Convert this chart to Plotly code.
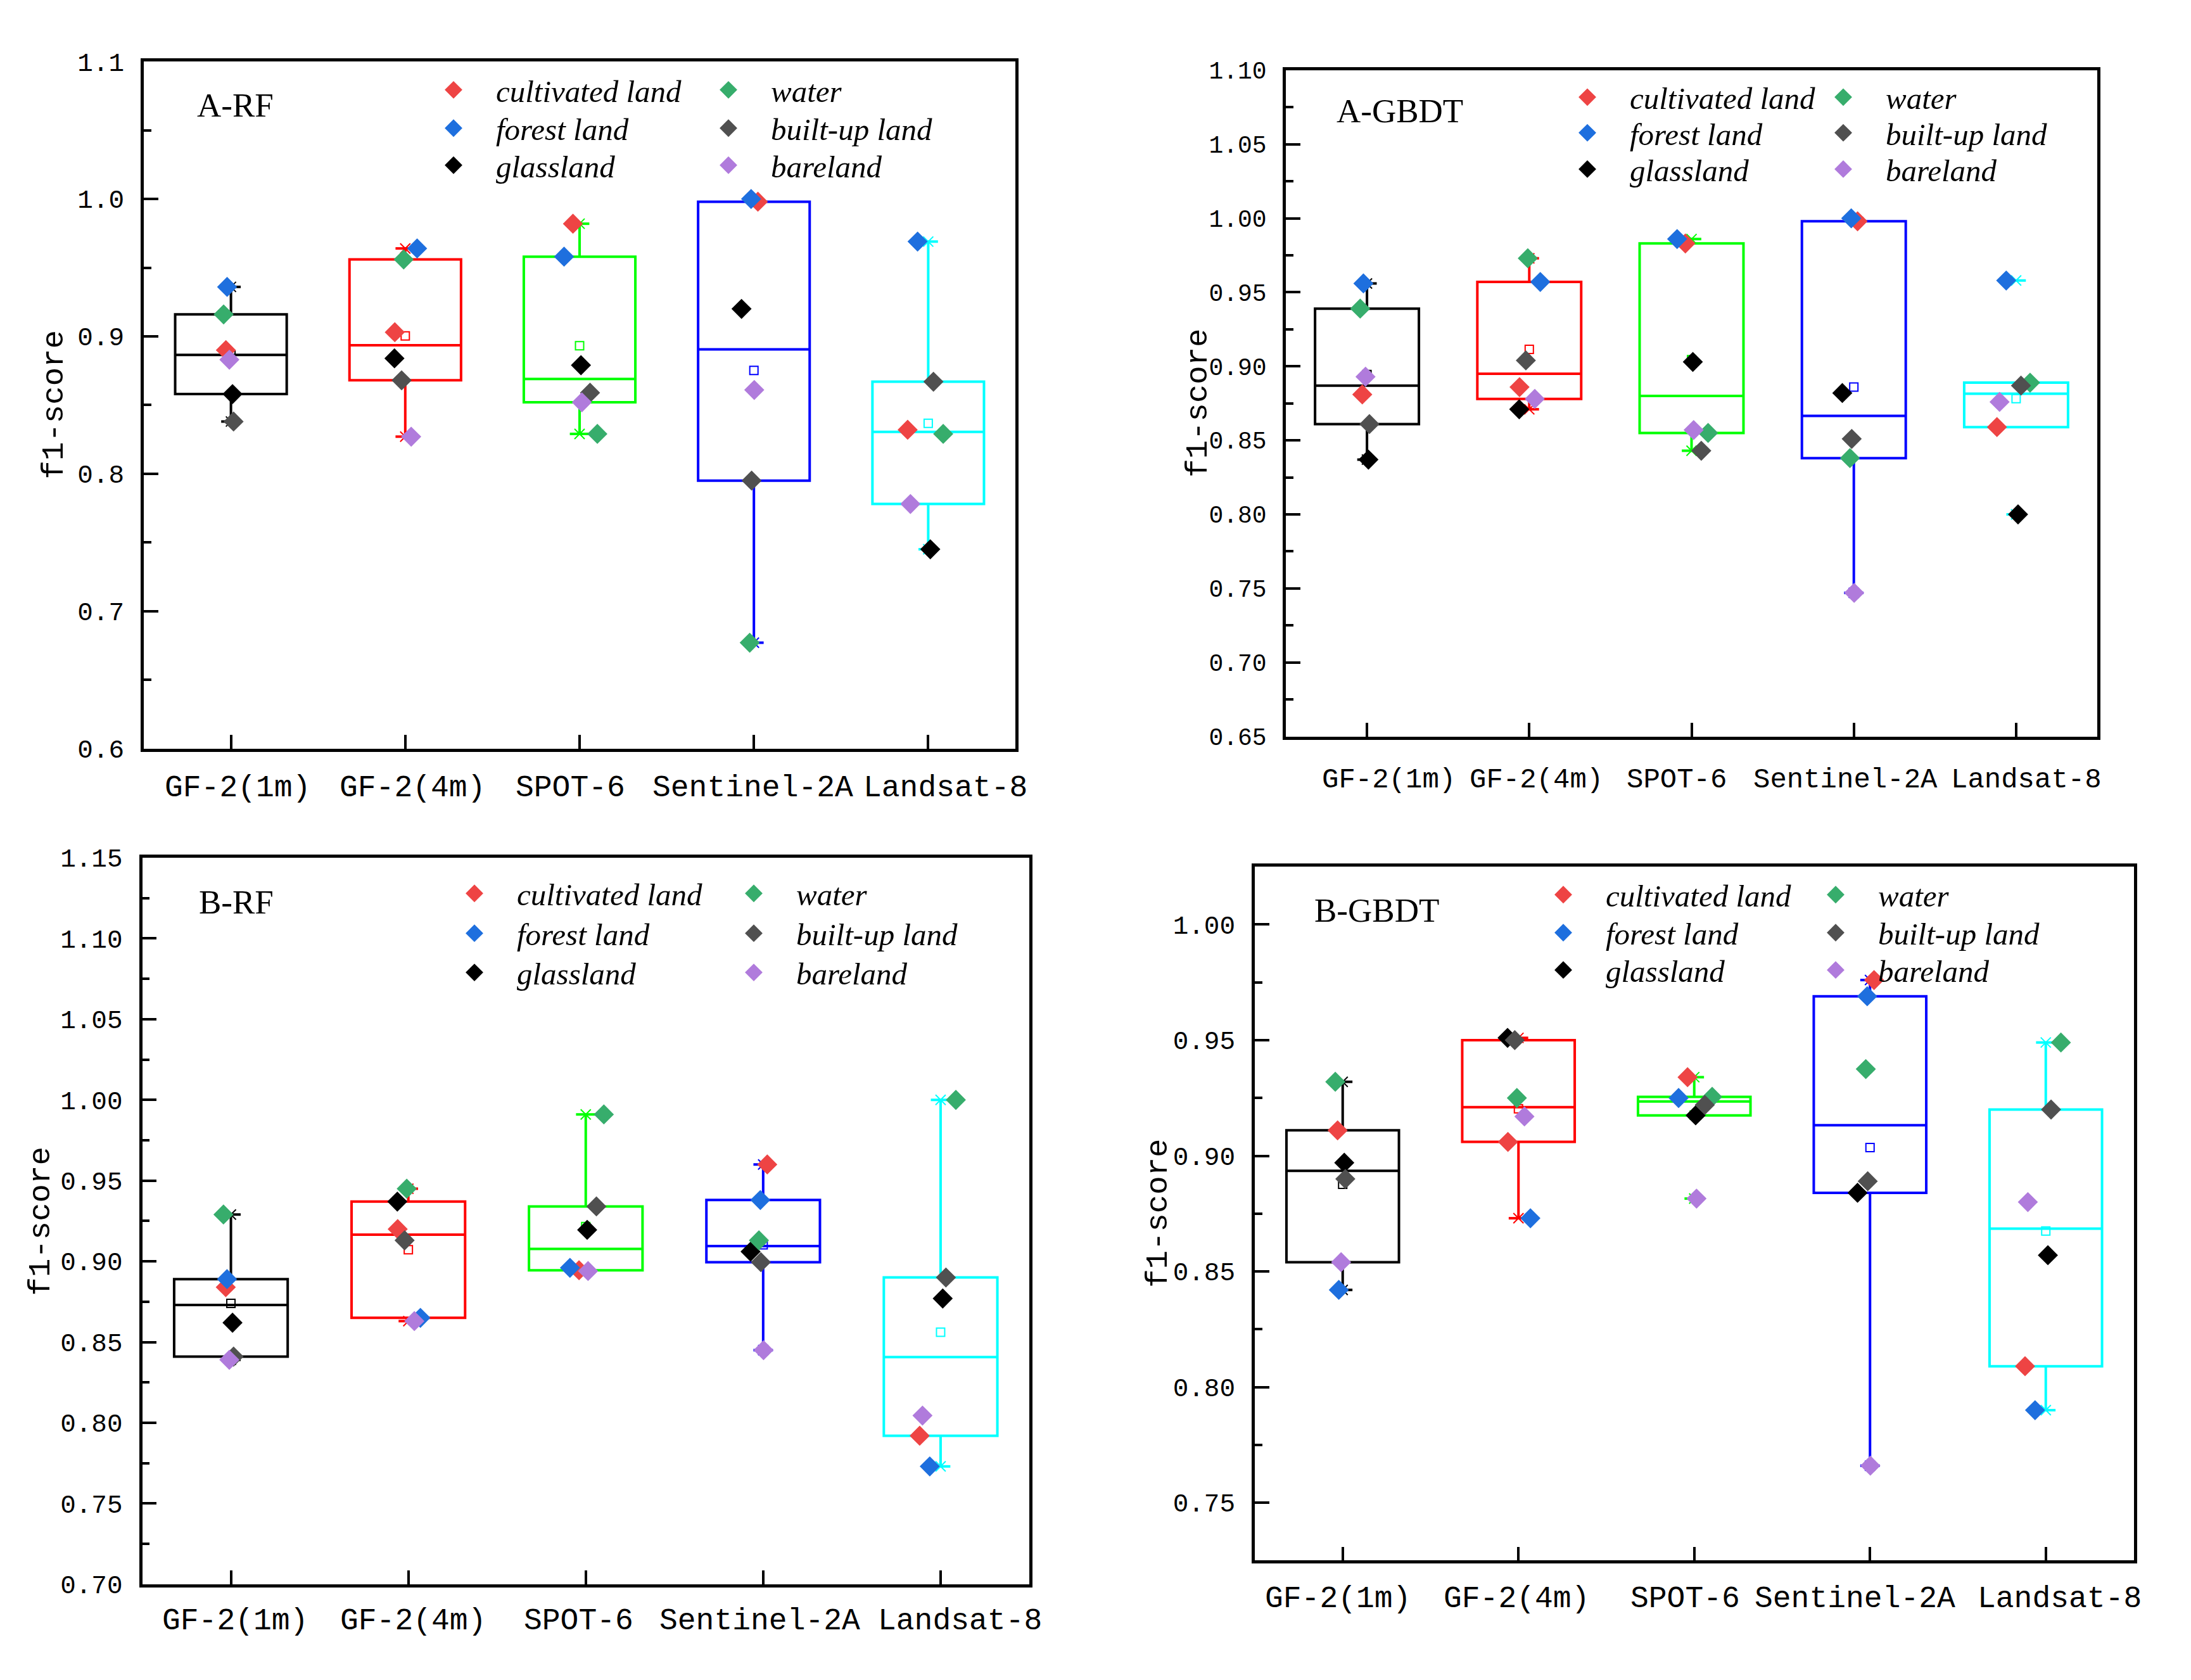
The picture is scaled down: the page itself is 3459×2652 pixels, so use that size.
import numpy as np
import plotly.graph_objects as go

# ---------------- data ----------------
CATEGORIES = ["GF-2(1m)", "GF-2(4m)", "SPOT-6", "Sentinel-2A", "Landsat-8"]
CLASS_NAMES = ["cultivated land", "forest land", "glassland", "water", "built-up land", "bareland"]

# A-RF
ARF_CULTIVATED = [0.890, 0.903, 0.982, 0.998, 0.832]
ARF_FOREST     = [0.936, 0.964, 0.958, 1.000, 0.969]
ARF_GLASSLAND  = [0.858, 0.884, 0.879, 0.920, 0.745]
ARF_WATER      = [0.916, 0.956, 0.829, 0.677, 0.829]
ARF_BUILTUP    = [0.838, 0.868, 0.859, 0.795, 0.867]
ARF_BARELAND   = [0.883, 0.827, 0.852, 0.861, 0.778]

# A-GBDT
AGBDT_CULTIVATED = [0.881, 0.886, 0.983, 0.998, 0.859]
AGBDT_FOREST     = [0.956, 0.957, 0.986, 1.000, 0.958]
AGBDT_GLASSLAND  = [0.837, 0.871, 0.903, 0.882, 0.800]
AGBDT_WATER      = [0.939, 0.973, 0.855, 0.838, 0.889]
AGBDT_BUILTUP    = [0.861, 0.904, 0.843, 0.851, 0.887]
AGBDT_BARELAND   = [0.893, 0.878, 0.857, 0.747, 0.876]

# B-RF
BRF_CULTIVATED = [0.884, 0.920, 0.8945, 0.960, 0.792]
BRF_FOREST     = [0.889, 0.865, 0.896, 0.938, 0.773]
BRF_GLASSLAND  = [0.862, 0.937, 0.9195, 0.906, 0.877]
BRF_WATER      = [0.929, 0.945, 0.991, 0.913, 1.000]
BRF_BUILTUP    = [0.841, 0.913, 0.934, 0.8995, 0.890]
BRF_BARELAND   = [0.839, 0.863, 0.894, 0.845, 0.8045]

# B-GBDT
BGBDT_CULTIVATED = [0.911, 0.906, 0.934, 0.976, 0.809]
BGBDT_FOREST     = [0.842, 0.873, 0.925, 0.969, 0.790]
BGBDT_GLASSLAND  = [0.897, 0.951, 0.9175, 0.884, 0.857]
BGBDT_WATER      = [0.932, 0.925, 0.9255, 0.9375, 0.949]
BGBDT_BUILTUP    = [0.890, 0.950, 0.922, 0.889, 0.920]
BGBDT_BARELAND   = [0.854, 0.917, 0.8815, 0.766, 0.880]

# horizontal jitter of the scatter points (fraction of category spacing)
JITTER_CULTIVATED = [-0.029, -0.060, -0.038, 0.023, -0.118]
JITTER_FOREST     = [-0.022, 0.068, -0.089, -0.016, -0.061]
JITTER_GLASSLAND  = [0.009, -0.062, 0.008, -0.071, 0.012]
JITTER_WATER      = [-0.042, -0.009, 0.102, -0.024, 0.086]
JITTER_BUILTUP    = [0.015, -0.021, 0.060, -0.013, 0.030]
JITTER_BARELAND   = [-0.009, 0.034, 0.013, 0.002, -0.102]
JITTERS = [JITTER_CULTIVATED, JITTER_FOREST, JITTER_GLASSLAND,
           JITTER_WATER, JITTER_BUILTUP, JITTER_BARELAND]

# ---------------- styles ----------------
CLASS_COLORS = ["#EE4444", "#1E6FDE", "#000000", "#37AD6C", "#505050", "#B07BDC"]
BOX_COLORS = ["#000000", "#FF0000", "#00FF00", "#0000FF", "#00FFFF"]

W, H = 3443, 2636          # figure size (page minus default body margin)
OFF = 8                    # body margin of the html page


def px(X):
    return (X - OFF) / W


def py(Y):
    return 1 - (Y - OFF) / H


# label_dx: per-category horizontal nudge of the category labels (px)
PANELS = [
    dict(name="A-RF",
         series=[ARF_CULTIVATED, ARF_FOREST, ARF_GLASSLAND, ARF_WATER, ARF_BUILTUP, ARF_BARELAND],
         yrange=[0.6, 1.1], tick0=0.6, dtick=0.1, fmt=".1f", minor=0.05,
         box=(227, 78.5, 1603, 1182), label=(309, 148), title_x=81,
         leg_x=(716, 1150), leg_y=(124, 185.5, 245), xfont=48, yfont=41,
         label_dx=[10, 11, -15, -2, 27], label_dy=62),
    dict(name="A-GBDT",
         series=[AGBDT_CULTIVATED, AGBDT_FOREST, AGBDT_GLASSLAND, AGBDT_WATER, AGBDT_BUILTUP, AGBDT_BARELAND],
         yrange=[0.65, 1.10], tick0=0.65, dtick=0.05, fmt=".2f", minor=0.025,
         box=(2030, 92.4, 3311, 1162.7), label=(2108, 158), title_x=1887,
         leg_x=(2506, 2910), leg_y=(135.7, 193, 251.3), xfont=44, yfont=38,
         label_dx=[34, 11, -24, -13, 16], label_dy=68),
    dict(name="B-RF",
         series=[BRF_CULTIVATED, BRF_FOREST, BRF_GLASSLAND, BRF_WATER, BRF_BUILTUP, BRF_BARELAND],
         yrange=[0.70, 1.15], tick0=0.70, dtick=0.05, fmt=".2f", minor=0.025,
         box=(224.5, 1357.5, 1625, 2524.8), label=(312, 1429), title_x=60,
         leg_x=(749, 1190), leg_y=(1415, 1479, 1542), xfont=48, yfont=41,
         label_dx=[6, 7, -11, -5, 31], label_dy=58),
    dict(name="B-GBDT",
         series=[BGBDT_CULTIVATED, BGBDT_FOREST, BGBDT_GLASSLAND, BGBDT_WATER, BGBDT_BUILTUP, BGBDT_BARELAND],
         yrange=[0.725, 1.025], tick0=0.75, dtick=0.05, fmt=".2f", minor=0.025,
         box=(1981, 1372, 3368.5, 2486.6), label=(2073, 1442), title_x=1824,
         leg_x=(2468, 2898), leg_y=(1417, 1478, 1538), xfont=48, yfont=41,
         label_dx=[-8, -3, -14, -24, 22], label_dy=61),
]


def tukey_stats(values):
    v = np.sort(np.asarray(values, dtype=float))
    n = len(v)
    half = n // 2
    lower = v[:half]
    upper = v[n - half:]
    q1 = float(np.median(lower))
    q3 = float(np.median(upper))
    med = float(np.median(v))
    iqr = q3 - q1
    lf = float(v[v >= q1 - 1.5 * iqr].min())
    uf = float(v[v <= q3 + 1.5 * iqr].max())
    return dict(q1=q1, med=med, q3=q3, lf=min(lf, q1), uf=max(uf, q3),
                mean=float(v.mean()), vmin=float(v.min()), vmax=float(v.max()))


fig = go.Figure()
layout_updates = {}
annotations = []
xs = list(range(1, len(CATEGORIES) + 1))

for p, panel in enumerate(PANELS):
    k = p + 1
    xa = "x" if k == 1 else f"x{k}"
    ya = "y" if k == 1 else f"y{k}"
    xkey = "xaxis" if k == 1 else f"xaxis{k}"
    ykey = "yaxis" if k == 1 else f"yaxis{k}"

    per_cat = [[s[i] for s in panel["series"]] for i in range(len(CATEGORIES))]
    stats = [tukey_stats(vals) for vals in per_cat]

    # boxes
    for i, st in enumerate(stats):
        fig.add_trace(go.Box(
            x=[xs[i]], q1=[st["q1"]], median=[st["med"]], q3=[st["q3"]],
            lowerfence=[st["lf"]], upperfence=[st["uf"]],
            width=0.64, whiskerwidth=0, boxpoints=False,
            line=dict(color=BOX_COLORS[i], width=4),
            fillcolor="rgba(0,0,0,0)", showlegend=False, hoverinfo="skip",
            xaxis=xa, yaxis=ya))

    # mean markers
    fig.add_trace(go.Scatter(
        x=xs, y=[st["mean"] for st in stats], mode="markers",
        marker=dict(symbol="square-open", size=13, color=BOX_COLORS,
                    line=dict(width=2, color=BOX_COLORS)),
        showlegend=False, hoverinfo="skip", xaxis=xa, yaxis=ya))

    # min / max markers
    mm_y = [st["vmin"] for st in stats] + [st["vmax"] for st in stats]
    mm_x = xs + xs
    mm_c = BOX_COLORS + BOX_COLORS
    fig.add_trace(go.Scatter(
        x=mm_x, y=mm_y, mode="markers",
        marker=dict(symbol="x-thin", size=16, color=mm_c, line=dict(width=2, color=mm_c)),
        showlegend=False, hoverinfo="skip", xaxis=xa, yaxis=ya))
    fig.add_trace(go.Scatter(
        x=mm_x, y=mm_y, mode="markers",
        marker=dict(symbol="line-ew", size=22, color=mm_c, line=dict(width=4, color=mm_c)),
        showlegend=False, hoverinfo="skip", xaxis=xa, yaxis=ya))

    # class points, each with its own one-entry legend
    for c, (cname, vals) in enumerate(zip(CLASS_NAMES, panel["series"])):
        idx = p * 6 + c + 1
        lname = "legend" if idx == 1 else f"legend{idx}"
        fig.add_trace(go.Scatter(
            x=[xs[i] + JITTERS[c][i] for i in range(len(CATEGORIES))], y=vals,
            mode="markers", name=cname,
            marker=dict(symbol="diamond", size=19, color=CLASS_COLORS[c],
                        line=dict(width=5, color=CLASS_COLORS[c])),
            legend=lname, showlegend=True, xaxis=xa, yaxis=ya))
        lx = panel["leg_x"][c // 3]
        ly = panel["leg_y"][c % 3]
        layout_updates[lname] = dict(
            x=px(lx - 67), y=py(ly), xanchor="left", yanchor="middle",
            bgcolor="rgba(0,0,0,0)", borderwidth=0, itemwidth=124,
            itemsizing="trace",
            font=dict(family="Liberation Serif", size=49, color="black", style="italic"))

    x0, y0, x1, y1 = panel["box"]
    layout_updates[xkey] = dict(
        domain=[px(x0), px(x1)], anchor=ya, type="linear", range=[0.5, 5.5],
        tickmode="array", tickvals=xs, showticklabels=False,
        ticks="inside", ticklen=22, tickwidth=4, tickcolor="black",
        showline=True, linewidth=4.5, linecolor="black", mirror=True,
        showgrid=False, zeroline=False)
    layout_updates[ykey] = dict(
        domain=[py(y1), py(y0)], anchor=xa, range=panel["yrange"],
        tickmode="linear", tick0=panel["tick0"], dtick=panel["dtick"], tickformat=panel["fmt"],
        ticks="inside", ticklen=23, tickwidth=4, tickcolor="black",
        minor=dict(dtick=panel["minor"], tick0=panel["tick0"], ticks="inside",
                   ticklen=12, tickwidth=4, tickcolor="black"),
        showline=True, linewidth=4.5, linecolor="black", mirror=True,
        showgrid=False, zeroline=False, ticklabelstandoff=18,
        tickfont=dict(family="Liberation Mono", size=panel["yfont"], color="black"))

    # category labels under the x axis (placed on the x axis scale)
    for i, cat in enumerate(CATEGORIES):
        annotations.append(dict(
            text=cat, x=xs[i], xref=xa, y=py(y1), yref="paper",
            xanchor="center", yanchor="middle",
            xshift=panel["label_dx"][i], yshift=-panel["label_dy"], showarrow=False,
            font=dict(family="Liberation Mono", size=panel["xfont"], color="black")))

    annotations.append(dict(
        text=panel["name"], x=px(panel["label"][0]), y=py(panel["label"][1]),
        xref="paper", yref="paper", xanchor="left", yanchor="middle", showarrow=False,
        font=dict(family="Liberation Serif", size=53, color="black")))
    annotations.append(dict(
        text="f1-score", x=px(panel["title_x"] + 5), y=py((y0 + y1) / 2),
        xref="paper", yref="paper", xanchor="center", yanchor="middle", showarrow=False,
        textangle=-90, font=dict(family="Liberation Mono", size=49, color="black")))

fig.update_layout(
    width=W, height=H, margin=dict(l=0, r=0, t=0, b=0),
    paper_bgcolor="white", plot_bgcolor="white",
    annotations=annotations, **layout_updates)

fig.write_html("out.html")
